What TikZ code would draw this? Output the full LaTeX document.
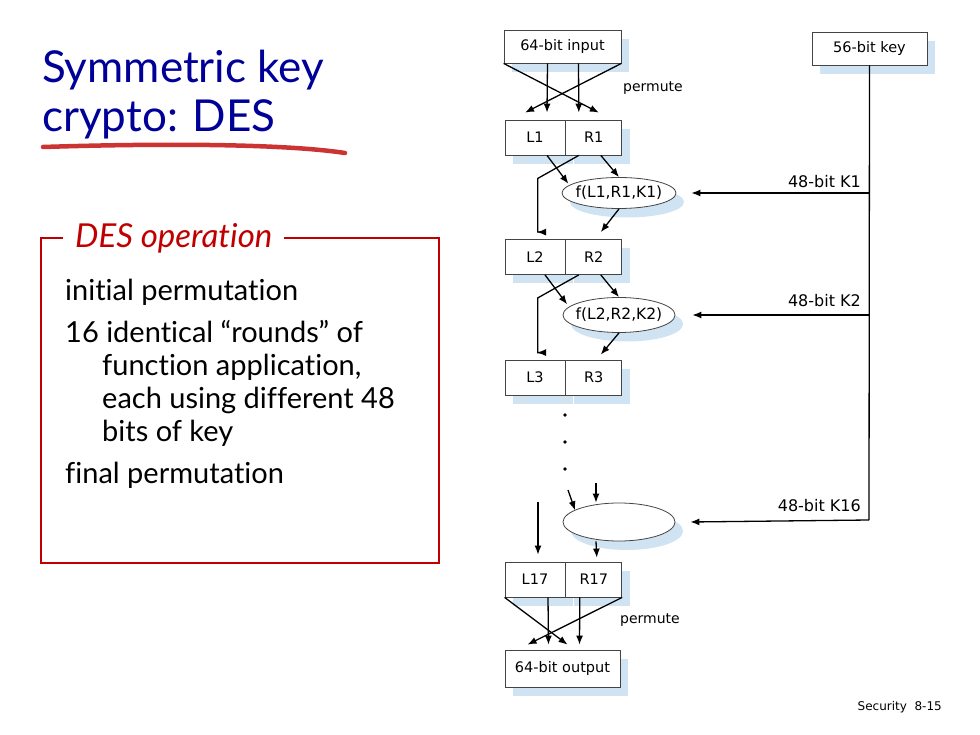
\documentclass[tikz,border=0pt]{standalone}
\usepackage{fontspec}
\setmainfont{Lato}[Ligatures=NoCommon]
\newfontfamily\diagfont{DejaVu Sans}
\newfontfamily\footfont{DejaVu Sans}
\usepackage{xcolor}
\usepackage{tikz}
\usetikzlibrary{calc,arrows.meta,shadows,shapes.geometric}
\definecolor{titleblue}{HTML}{000099}
\definecolor{boxred}{HTML}{C00000}
\definecolor{penred}{HTML}{CC3333}
\definecolor{shade}{HTML}{CFE3F3}
\definecolor{ink}{HTML}{444444}
\tikzset{
  blk/.style={draw=ink, fill=white, line width=0.8pt, inner sep=0pt,
    font=\diagfont\fontsize{14.5}{16}\selectfont,
    drop shadow={shadow xshift=8pt, shadow yshift=-9pt, fill=shade, opacity=1}},
  half/.style={blk, minimum height=35pt},
  fbox/.style={blk, ellipse, minimum width=114pt, minimum height=31pt,
    font=\diagfont\fontsize{15.5}{17}\selectfont},
  arr/.style={draw=black, line width=1.3pt, -{Latex[length=9pt,width=7pt]}},
  lin/.style={draw=black, line width=1.3pt},
  klab/.style={font=\diagfont\fontsize{16}{18}\selectfont, anchor=south east, inner sep=0pt},
  plab/.style={font=\diagfont\fontsize{14}{16}\selectfont, anchor=west, inner sep=0pt},
  dot/.style={circle, fill=black, inner sep=1.4pt}
}
% keep the ellipse size independent of its label
\newcommand{\ftxt}[1]{\makebox[60pt]{#1}}
\begin{document}
\begin{tikzpicture}[x=1pt, y=-1pt]
  \useasboundingbox (0,0) rectangle (980,735);

  % title and pen stroke
  \node[anchor=base west, inner sep=0pt, text=titleblue,
    font=\fontsize{44}{49}\selectfont] (title1) at (42,83) {Symmetric key};
  \node[anchor=base west, inner sep=0pt, text=titleblue,
    font=\fontsize{44}{49}\selectfont] (title2) at (42,132) {crypto: DES};
  \draw[penred, line width=4.5pt, line cap=round]
    (43,147) .. controls (200,142) and (300,146) .. (345,153);

  % DES operation box
  \draw[boxred, line width=1.2pt] (41,238) rectangle (439,563);
  \node[anchor=base west, fill=white, inner xsep=12pt, inner ysep=2pt, text=boxred,
    font=\itshape\fontsize{33}{36}\selectfont] (optitle) at (63,248) {DES operation};
  \node[anchor=north west, inner sep=0pt, align=left,
    font=\fontsize{29}{33}\selectfont] (ops) at (65,279)
    {initial permutation\\[9pt]
     16 identical ``rounds'' of\\
     \hspace*{37pt}function application,\\
     \hspace*{37pt}each using different 48\\
     \hspace*{37pt}bits of key\\[9pt]
     final permutation};

  % key schedule
  \node[blk, minimum width=115pt, minimum height=33pt] (key) at (869.5,48.5) {56-bit key};
  \coordinate (kturn) at (869,520);

  % initial permutation
  \node[blk, minimum width=117pt, minimum height=33pt] (in) at (562.5,46.5) {64-bit input};
  \node[half, minimum width=60pt] (L1) at (535,137.5) {L1};
  \node[half, minimum width=56pt, anchor=west] (R1) at (L1.east) {R1};
  \draw[arr] (in.south west) -- ([xshift=5pt,yshift=7pt]R1.north);
  \draw[arr] (in.south east) -- ([xshift=-10pt,yshift=7pt]L1.north);
  \draw[arr] ([xshift=-15pt]in.south) -- ([xshift=12pt,yshift=7pt]L1.north);
  \draw[arr] ([xshift=16pt]in.south) -- ([xshift=-15pt,yshift=7pt]R1.north);
  \node[plab] (perm1) at (623,88) {permute};

  % round 1
  \node[fbox] (f1) at (619,193) {\ftxt{f(L1,R1,K1)}};
  \node[half, minimum width=60pt] (L2) at (535,257) {L2};
  \node[half, minimum width=56pt, anchor=west] (R2) at (L2.east) {R2};
  \draw[arr] ([xshift=7pt]R1.south) -- (f1.north);
  \draw[arr] ([xshift=12pt]L1.south) -- ([xshift=-10pt,yshift=-2pt]f1.north west);
  \draw[arr] ([xshift=-15pt]R1.south) -- ++(-41,23) |- ([xshift=2pt,yshift=7pt]L2.north);
  \draw[arr] (f1.south) -- ([xshift=7pt,yshift=7pt]R2.north);
  \node[klab] (k1) at (861,188) {48-bit K1};

  % round 2
  \node[fbox, minimum width=112pt, minimum height=35pt] (f2) at (619,315) {\ftxt{f(L2,R2,K2)}};
  \node[half, minimum width=60pt] (L3) at (535,377.5) {L3};
  \node[half, minimum width=56pt, anchor=west] (R3) at (L3.east) {R3};
  \draw[arr] ([xshift=7pt]R2.south) -- (f2.north);
  \draw[arr] ([xshift=10pt]L2.south) -- ([xshift=-12pt,yshift=-2pt]f2.north west);
  \draw[arr] ([xshift=-15pt]R2.south) -- ++(-41,23) |- ([xshift=2pt,yshift=7pt]L3.north);
  \draw[arr] (f2.south) -- ([xshift=7pt,yshift=5pt]R3.north);
  \node[klab] (k2) at (861,307) {48-bit K2};

  \node[dot] (d1) at (565,415) {};
  \node[dot] (d2) at (565,442) {};
  \node[dot] (d3) at (565,469) {};

  % round 16
  \node[fbox, minimum width=112pt, minimum height=38pt] (f16) at (619,522) {};
  \node[half, minimum width=60pt] (L17) at (535,579.5) {L17};
  \node[half, minimum width=56pt, anchor=west] (R17) at (L17.east) {R17};
  \coordinate (c16a) at (568,490);
  \coordinate (c16b) at (596,483);
  \coordinate (c16c) at (538,502);
  \draw[arr] (c16a) -- ([xshift=-4pt,yshift=-2pt]f16.north west);
  \draw[arr] (c16b) -- ([xshift=-23pt]f16.north);
  \draw[arr] (c16c) -- ([xshift=3pt,yshift=7pt]L17.north);
  \draw[arr] ([xshift=-23pt]f16.south) -- ([xshift=3pt,yshift=4pt]R17.north);
  \node[klab] (k16) at (861,512) {48-bit K16};

  % key lines
  \draw[lin] (key.south) -- (kturn);
  \draw[arr] (kturn) -- ([xshift=15pt]f16.east);
  \draw[arr] (key.south |- f1.east) -- ([xshift=15pt]f1.east);
  \draw[arr] (key.south |- f2.east) -- ([xshift=17pt]f2.east);

  % final permutation
  \node[blk, minimum width=115pt, minimum height=37pt] (out) at (562.5,668.5) {64-bit output};
  \draw[arr] (L17.south west) -- ([xshift=5pt,yshift=5pt]out.north);
  \draw[arr] (R17.south east) -- ([xshift=-35pt,yshift=5pt]out.north);
  \draw[arr] ([xshift=13pt]L17.south) -- ([xshift=-14pt,yshift=5pt]out.north);
  \draw[arr] ([xshift=-14pt]R17.south) -- ([xshift=17pt,yshift=5pt]out.north);
  \node[plab] (perm2) at (620,620) {permute};

  % footer
  \node[anchor=base east, inner sep=0pt, font=\footfont\fontsize{12}{14}\selectfont]
    (foot) at (942,710) {Security~~8-15};
\end{tikzpicture}
\end{document}
